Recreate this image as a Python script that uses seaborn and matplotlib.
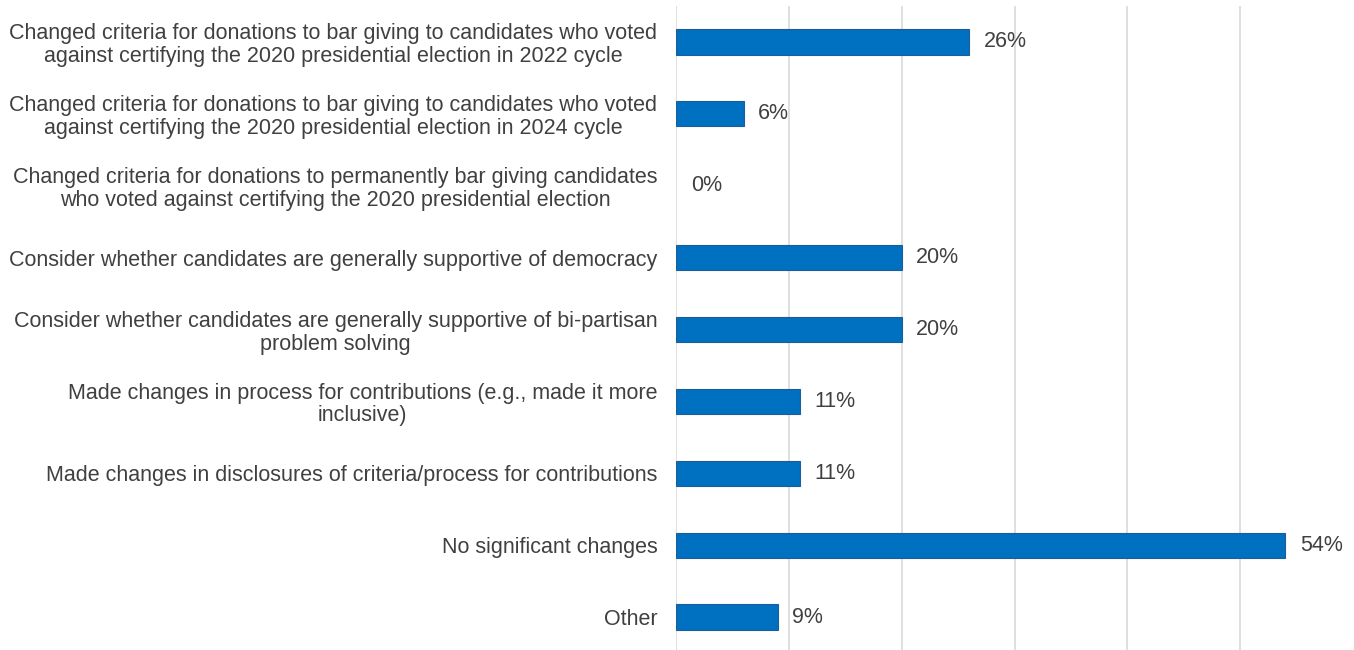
import matplotlib
matplotlib.use("Agg")
import matplotlib.pyplot as plt
import seaborn as sns
import pandas as pd

categories = [
    "Changed criteria for donations to bar giving to candidates who voted\nagainst certifying the 2020 presidential election in 2022 cycle",
    "Changed criteria for donations to bar giving to candidates who voted\nagainst certifying the 2020 presidential election in 2024 cycle",
    "Changed criteria for donations to permanently bar giving candidates\nwho voted against certifying the 2020 presidential election",
    "Consider whether candidates are generally supportive of democracy",
    "Consider whether candidates are generally supportive of bi-partisan\nproblem solving",
    "Made changes in process for contributions (e.g., made it more\ninclusive)",
    "Made changes in disclosures of criteria/process for contributions",
    "No significant changes",
    "Other",
]
values = [26, 6, 0, 20, 20, 11, 11, 54, 9]
value_labels = ["26%", "6%", "0%", "20%", "20%", "11%", "11%", "54%", "9%"]

df = pd.DataFrame({"category": categories, "value": values})

sns.set_theme(style="white")
plt.rcParams["font.family"] = ["Liberation Sans", "DejaVu Sans"]

W, H = 1354, 650
fig = plt.figure(figsize=(W / 100, H / 100), dpi=100)
ax = fig.add_axes([676 / W, 0, (1353 - 676) / W, (H - 6) / H])

sns.barplot(data=df, x="value", y="category", orient="h", color="#0070C0",
            width=0.35, saturation=1, edgecolor="#1F5C9A", linewidth=0.8,
            ax=ax, zorder=3)
# zero-length bars get no outline
for p in ax.patches:
    if p.get_width() == 0:
        p.set_linewidth(0)

ax.set_xlim(0, 60)
ax.set_ylim(8.5 - 3 / 72, -0.5)
ax.set_xticks([0, 10, 20, 30, 40, 50])
ax.xaxis.grid(True, color="#D9D9D9", linewidth=1.2, zorder=0)
ax.set_xticklabels([])
ax.tick_params(axis="x", length=0)
ax.tick_params(axis="y", length=0, pad=13.5, labelsize=15.5, labelcolor="#404040")
for lab in ax.get_yticklabels():
    lab.set_multialignment("center")
    lab.set_linespacing(1.1)
ax.set_xlabel("")
ax.set_ylabel("")
for s in ax.spines.values():
    s.set_visible(False)

for i, (v, t) in enumerate(zip(values, value_labels)):
    ax.text(v + 1.3, i, t, va="center", ha="left", fontsize=15.5, color="#404040")

fig.savefig("out.png", dpi=100)
